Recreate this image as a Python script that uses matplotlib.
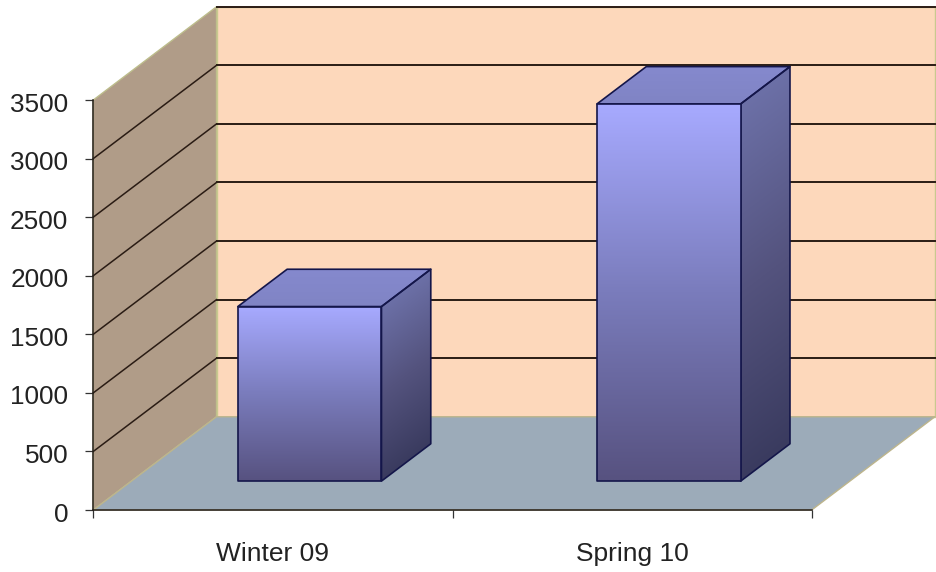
import numpy as np
import matplotlib
matplotlib.use("Agg")
import matplotlib.pyplot as plt
from matplotlib.colors import LinearSegmentedColormap
from matplotlib.patches import Polygon
from matplotlib.transforms import ScaledTranslation

plt.rcParams['font.family'] = ['Liberation Sans', 'DejaVu Sans']

categories = ["Winter 09", "Spring 10"]
values = [1490, 3220]
value_ticks = [0, 500, 1000, 1500, 2000, 2500, 3000, 3500]

bar_width = 0.4
depth_x = 0.343  # sideways shift of the back of the box, in category units
depth_y = 796  # upward shift of the back of the box, in value units
bar_front = 0.31  # bars stand between these two fractions of the depth
bar_back = 0.71

W, H = 937, 572
fig = plt.figure(figsize=(W / 100, H / 100), dpi=100, facecolor="white")
ax = fig.add_axes([93.3 / W, 1 - 510 / H, 718.4 / W, 410 / H])
ax.patch.set_visible(False)

front_cmap = LinearSegmentedColormap.from_list("front", ["#575280", "#7a7cbc", "#a7aaff"])
side_cmap = LinearSegmentedColormap.from_list("side", ["#3a3b5f", "#54537e", "#6c70a7"])
top_cmap = LinearSegmentedColormap.from_list("top", ["#8084c4", "#8589ce"])


def proj(x, v, d):  # oblique projection of a point at depth d
    return (x + d * depth_x, v + d * depth_y)


def face(points, color, edge, lw=1.0, z=1):
    p = Polygon(points, closed=True, facecolor=color, edgecolor=edge, linewidth=lw,
                zorder=z, clip_on=False, joinstyle="round")
    ax.add_patch(p)
    return p


def shaded_face(points, cmap, shade, z):  # polygon filled with a gradient image
    pts = np.array(points)
    x0, x1 = pts[:, 0].min(), pts[:, 0].max()
    y0, y1 = pts[:, 1].min(), pts[:, 1].max()
    xs, ys = np.meshgrid(np.linspace(x0, x1, 120), np.linspace(y0, y1, 300))
    im = ax.imshow(shade(xs, ys), cmap=cmap, vmin=0, vmax=1, origin="lower", aspect="auto",
                   extent=(x0, x1, y0, y1), zorder=z, interpolation="bilinear")
    outline = face(points, "none", "#14164a", 1.2, z + 0.1)
    im.set_clip_box(fig.bbox)
    im.set_clip_path(outline)


# walls and floor of the box
top = value_ticks[-1]
face([proj(0, 0, 0), proj(0, top, 0), proj(0, top, 1), proj(0, 0, 1)], "#b09c88", "#bdbd8c", 1.0, 1)
face([proj(0, 0, 1), proj(0, top, 1), proj(2, top, 1), proj(2, 0, 1)], "#fdd8bb", "#c9c98f", 1.0, 1)
face([proj(0, 0, 0), proj(0, 0, 1), proj(2, 0, 1), proj(2, 0, 0)], "#9cabb9", "#bdb58c", 1.0, 1.2)

for v in value_ticks[1:]:
    xs, ys = zip(proj(0, v, 0), proj(0, v, 1), proj(2, v, 1))
    ax.plot(xs[:2], ys[:2], color="#2a1c14", lw=1.1, clip_on=False, zorder=1.1,
            alpha=0 if v == top else 1)
    ax.plot(xs[1:], ys[1:], color="#2a1c14", lw=1.4, clip_on=False, zorder=1.1)

# bars, shading runs up each bar from its own base
for i, val in enumerate(values):
    left = i + 0.5 - bar_width / 2 - 0.004
    right = i + 0.5 + bar_width / 2 - 0.004
    a, b = bar_front, bar_back

    shaded_face([proj(right, 0, a), proj(right, val, a), proj(right, val, b), proj(right, 0, b)],
                side_cmap,
                lambda xs, ys, r=right, h=val: np.clip(
                    (ys - (xs - (r + a * depth_x)) / depth_x * depth_y - a * depth_y) / h, 0, 1),
                3)
    shaded_face([proj(left, val, a), proj(left, val, b), proj(right, val, b), proj(right, val, a)],
                top_cmap, lambda xs, ys: (ys - ys.min()) / (ys.max() - ys.min()), 3)
    shaded_face([proj(left, 0, a), proj(left, val, a), proj(right, val, a), proj(right, 0, a)],
                front_cmap, lambda xs, ys: (ys - ys.min()) / (ys.max() - ys.min()), 3.5)

ax.set_xlim(0, 2)
ax.set_ylim(0, top)
for s in ["top", "right"]:
    ax.spines[s].set_visible(False)
for s in ["left", "bottom"]:
    ax.spines[s].set_color("#221c18")
    ax.spines[s].set_linewidth(1.1)
    ax.spines[s].set_zorder(5)

ax.set_yticks(value_ticks)
ax.set_xticks([0, 1, 2])
ax.set_xticklabels([])
ax.set_xticks([0.5, 1.5], minor=True)
ax.set_xticklabels(categories, minor=True, fontsize=19, color="#222222")
ax.tick_params(axis="x", which="minor", length=0, pad=23)
ax.tick_params(axis="x", which="major", length=5.5, width=0.9, color="#333333")
ax.tick_params(axis="y", length=6, width=0.9, color="#333333", pad=12, labelsize=18.8, labelcolor="#222222")

# value labels sit a little below their ticks
nudge = ScaledTranslation(0, -2 / 100, fig.dpi_scale_trans)
for label in ax.get_yticklabels():
    label.set_transform(label.get_transform() + nudge)

fig.savefig("out.png", dpi=100)
